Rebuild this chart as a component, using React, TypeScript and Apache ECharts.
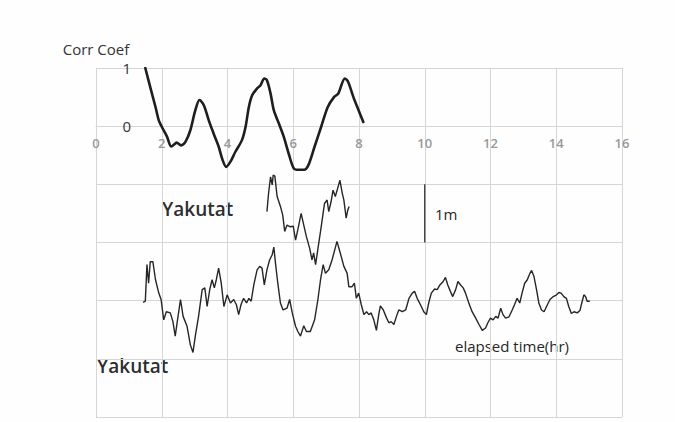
import React, { useEffect, useRef } from 'react';
import * as echarts from 'echarts';

// Correlation coefficient (thick curve)
const corrTime = [1.5, 1.65, 1.81, 1.91, 2.0, 2.16, 2.29, 2.41, 2.45, 2.59, 2.72, 2.87, 3.02, 3.15, 3.28, 3.43, 3.58, 3.73, 3.85, 3.96, 4.09, 4.24, 4.44, 4.55, 4.65, 4.75, 4.9, 5.0, 5.12, 5.2, 5.31, 5.41, 5.56, 5.71, 5.86, 6.02, 6.17, 6.33, 6.46, 6.65, 6.85, 7.05, 7.24, 7.37, 7.57, 7.67, 7.83, 7.99, 8.13];
const corrValue = [1.0, 0.67, 0.33, 0.1, -0.01, -0.18, -0.35, -0.3, -0.28, -0.33, -0.27, -0.07, 0.27, 0.45, 0.36, 0.1, -0.13, -0.35, -0.58, -0.7, -0.61, -0.44, -0.24, -0.01, 0.33, 0.53, 0.65, 0.7, 0.82, 0.79, 0.56, 0.27, 0.05, -0.18, -0.47, -0.73, -0.75, -0.75, -0.67, -0.35, -0.01, 0.33, 0.5, 0.56, 0.82, 0.76, 0.5, 0.27, 0.07];

// Upper Yakutat trace (offset level, 1 grid unit = 1 m)
const upperTime = [5.2, 5.25, 5.31, 5.36, 5.39, 5.44, 5.51, 5.61, 5.68, 5.74, 5.81, 5.91, 6.0, 6.07, 6.14, 6.24, 6.32, 6.4, 6.5, 6.57, 6.62, 6.68, 6.76, 6.83, 6.88, 6.95, 7.03, 7.08, 7.15, 7.21, 7.28, 7.35, 7.42, 7.49, 7.54, 7.61, 7.66, 7.7];
const upperLevel = [-1.47, -1.15, -0.87, -1.01, -0.84, -0.86, -1.21, -1.38, -1.53, -1.81, -1.7, -1.73, -1.72, -1.96, -1.78, -1.5, -1.7, -1.9, -2.1, -2.3, -2.18, -2.38, -2.07, -1.81, -1.61, -1.33, -1.27, -1.47, -1.3, -1.1, -1.21, -1.07, -0.93, -1.15, -1.27, -1.58, -1.44, -1.38];

// Lower Yakutat trace (offset level)
const lowerTime = [1.43, 1.5, 1.55, 1.6, 1.65, 1.73, 1.81, 1.91, 1.98, 2.06, 2.14, 2.26, 2.34, 2.41, 2.48, 2.57, 2.65, 2.77, 2.87, 2.95, 3.02, 3.12, 3.23, 3.31, 3.38, 3.46, 3.53, 3.6, 3.66, 3.73, 3.81, 3.89, 3.99, 4.09, 4.19, 4.27, 4.34, 4.41, 4.49, 4.58, 4.65, 4.72, 4.8, 4.9, 4.98, 5.05, 5.12, 5.2, 5.28, 5.36, 5.41, 5.46, 5.53, 5.61, 5.69, 5.81, 5.89, 5.97, 6.07, 6.14, 6.22, 6.32, 6.4, 6.52, 6.65, 6.75, 6.83, 6.91, 6.98, 7.08, 7.18, 7.26, 7.33, 7.43, 7.54, 7.64, 7.69, 7.79, 7.86, 7.92, 7.99, 8.07, 8.15, 8.23, 8.3, 8.37, 8.45, 8.53, 8.6, 8.65, 8.74, 8.84, 8.91, 8.98, 9.06, 9.14, 9.21, 9.32, 9.42, 9.52, 9.62, 9.69, 9.77, 9.87, 9.97, 10.05, 10.12, 10.2, 10.3, 10.38, 10.46, 10.56, 10.63, 10.7, 10.78, 10.85, 10.94, 11.01, 11.09, 11.17, 11.24, 11.34, 11.44, 11.55, 11.65, 11.75, 11.85, 11.92, 12.0, 12.08, 12.16, 12.23, 12.31, 12.38, 12.46, 12.56, 12.66, 12.73, 12.81, 12.89, 12.96, 13.04, 13.12, 13.2, 13.25, 13.32, 13.4, 13.47, 13.55, 13.63, 13.73, 13.81, 13.91, 14.01, 14.08, 14.15, 14.23, 14.31, 14.38, 14.46, 14.54, 14.64, 14.72, 14.79, 14.84, 14.89, 14.94, 15.02];
const lowerLevel = [-3.03, -3.01, -2.38, -2.7, -2.33, -2.33, -2.64, -2.87, -2.98, -3.33, -3.19, -3.21, -3.36, -3.61, -3.33, -2.98, -3.27, -3.44, -3.76, -3.89, -3.61, -3.27, -2.81, -2.78, -3.1, -2.81, -2.64, -2.78, -2.64, -2.44, -2.7, -3.1, -2.9, -3.04, -2.98, -3.07, -3.24, -3.07, -2.96, -3.04, -2.96, -3.01, -2.73, -2.47, -2.41, -2.44, -2.73, -2.47, -2.3, -2.21, -2.08, -2.36, -2.7, -3.04, -3.16, -3.13, -2.98, -3.21, -3.44, -3.53, -3.61, -3.43, -3.53, -3.53, -3.33, -2.98, -2.64, -2.38, -2.53, -2.47, -2.3, -2.13, -1.98, -2.18, -2.41, -2.53, -2.76, -2.76, -2.7, -2.96, -2.87, -3.07, -3.24, -3.19, -3.24, -3.21, -3.33, -3.51, -3.24, -3.09, -3.16, -3.3, -3.38, -3.36, -3.41, -3.27, -3.16, -3.19, -3.16, -2.96, -2.87, -2.84, -2.96, -3.07, -3.19, -3.24, -3.04, -2.87, -2.8, -2.81, -2.73, -2.67, -2.6, -2.73, -2.84, -2.93, -2.81, -2.67, -2.73, -2.78, -2.87, -3.04, -3.19, -3.3, -3.41, -3.51, -3.47, -3.38, -3.3, -3.33, -3.27, -3.3, -3.13, -3.24, -3.3, -3.28, -3.16, -3.07, -2.96, -3.04, -2.87, -2.7, -2.64, -2.53, -2.48, -2.58, -2.81, -3.04, -3.16, -3.19, -3.07, -2.98, -2.93, -2.9, -2.86, -2.87, -2.93, -2.96, -3.1, -3.22, -3.19, -3.21, -3.17, -3.01, -2.9, -2.93, -3.01, -3.01];

// 1 m scale bar
const scaleBarTime = [10, 10];
const scaleBarLevel = [-1, -2];

// Axis setup
const xMin = 0;
const xMax = 16;
const xInterval = 2;
const yMin = -5;
const yMax = 1;
const yInterval = 1;
const yShownTicks = [1, 0];

const zip = (a: number[], b: number[]) => a.map((v, i) => [v, b[i]]);

const GRID_TOP = 68;
const GRID_BOTTOM = 5;
const CHART_H = 422;

export default function App() {
  const ref = useRef<HTMLDivElement>(null);
  useEffect(() => {
    if (!ref.current) return;
    const chart = echarts.init(ref.current, undefined, { renderer: 'svg' });
    const font = '"Open Sans", "Noto Sans", sans-serif';
    const gridColor = '#d6d6d6';
    // place the x axis on the zero line (y = 0) via offset from the bottom edge
    const plotH = CHART_H - GRID_TOP - GRID_BOTTOM;
    const zeroFromBottom = (plotH * (0 - yMin)) / (yMax - yMin);
    chart.setOption({
      animation: false,
      backgroundColor: '#fefefe',
      textStyle: { fontFamily: font },
      grid: { left: 96, right: 53, top: GRID_TOP, bottom: GRID_BOTTOM, containLabel: false, outerBoundsMode: 'none' },
      xAxis: {
        type: 'value',
        min: xMin,
        max: xMax,
        interval: xInterval,
        position: 'bottom',
        offset: -zeroFromBottom,
        axisLine: { show: true, onZero: false, lineStyle: { color: gridColor, width: 1 } },
        axisTick: { show: false },
        axisLabel: { color: '#999', fontSize: 13, fontWeight: 600, margin: 10, fontFamily: font },
        splitLine: { show: true, lineStyle: { color: gridColor, width: 1 } },
      },
      yAxis: {
        type: 'value',
        min: yMin,
        max: yMax,
        interval: yInterval,
        name: 'Corr Coef',
        nameLocation: 'end',
        nameGap: 12,
        nameTextStyle: { color: '#333', fontSize: 15, fontFamily: font, align: 'center' },
        axisLine: { show: false },
        axisTick: { show: false },
        axisLabel: {
          color: '#333',
          fontSize: 15,
          margin: -35,
          fontFamily: font,
          formatter: (v: number) => (yShownTicks.includes(v) ? String(v) : ''),
        },
        splitLine: { show: true, lineStyle: { color: gridColor, width: 1 } },
      },
      series: [
        {
          type: 'line',
          name: 'Corr Coef',
          data: zip(corrTime, corrValue),
          symbol: 'none',
          smooth: 0.3,
          lineStyle: { color: '#1e1e1e', width: 2.6, join: 'round', cap: 'round' },
        },
        {
          type: 'line',
          name: 'Yakutat upper',
          data: zip(upperTime, upperLevel),
          symbol: 'none',
          lineStyle: { color: '#262626', width: 1.4 },
        },
        {
          type: 'line',
          name: 'Yakutat lower',
          data: zip(lowerTime, lowerLevel),
          symbol: 'none',
          lineStyle: { color: '#262626', width: 1.4 },
        },
        {
          type: 'line',
          name: '1m',
          data: zip(scaleBarTime, scaleBarLevel),
          symbol: 'none',
          lineStyle: { color: '#333', width: 1.3 },
        },
      ],
      graphic: [
        { type: 'text', left: 162, top: 199, style: { text: 'Yakutat', fontSize: 19, fontWeight: 600, fill: '#2e2e2e', fontFamily: font } },
        { type: 'text', left: 97, top: 356, style: { text: 'Yakutat', fontSize: 19, fontWeight: 600, fill: '#2e2e2e', fontFamily: font } },
        { type: 'text', left: 435, top: 206, style: { text: '1m', fontSize: 15, fill: '#262626', fontFamily: font } },
        { type: 'text', left: 455, top: 338, style: { text: 'elapsed time(hr)', fontSize: 15, fill: '#262626', fontFamily: font } },
      ],
    });
    return () => chart.dispose();
  }, []);
  return <div ref={ref} style={{ position: 'fixed', left: 0, top: 0, width: 675, height: 422 }} />;
}
